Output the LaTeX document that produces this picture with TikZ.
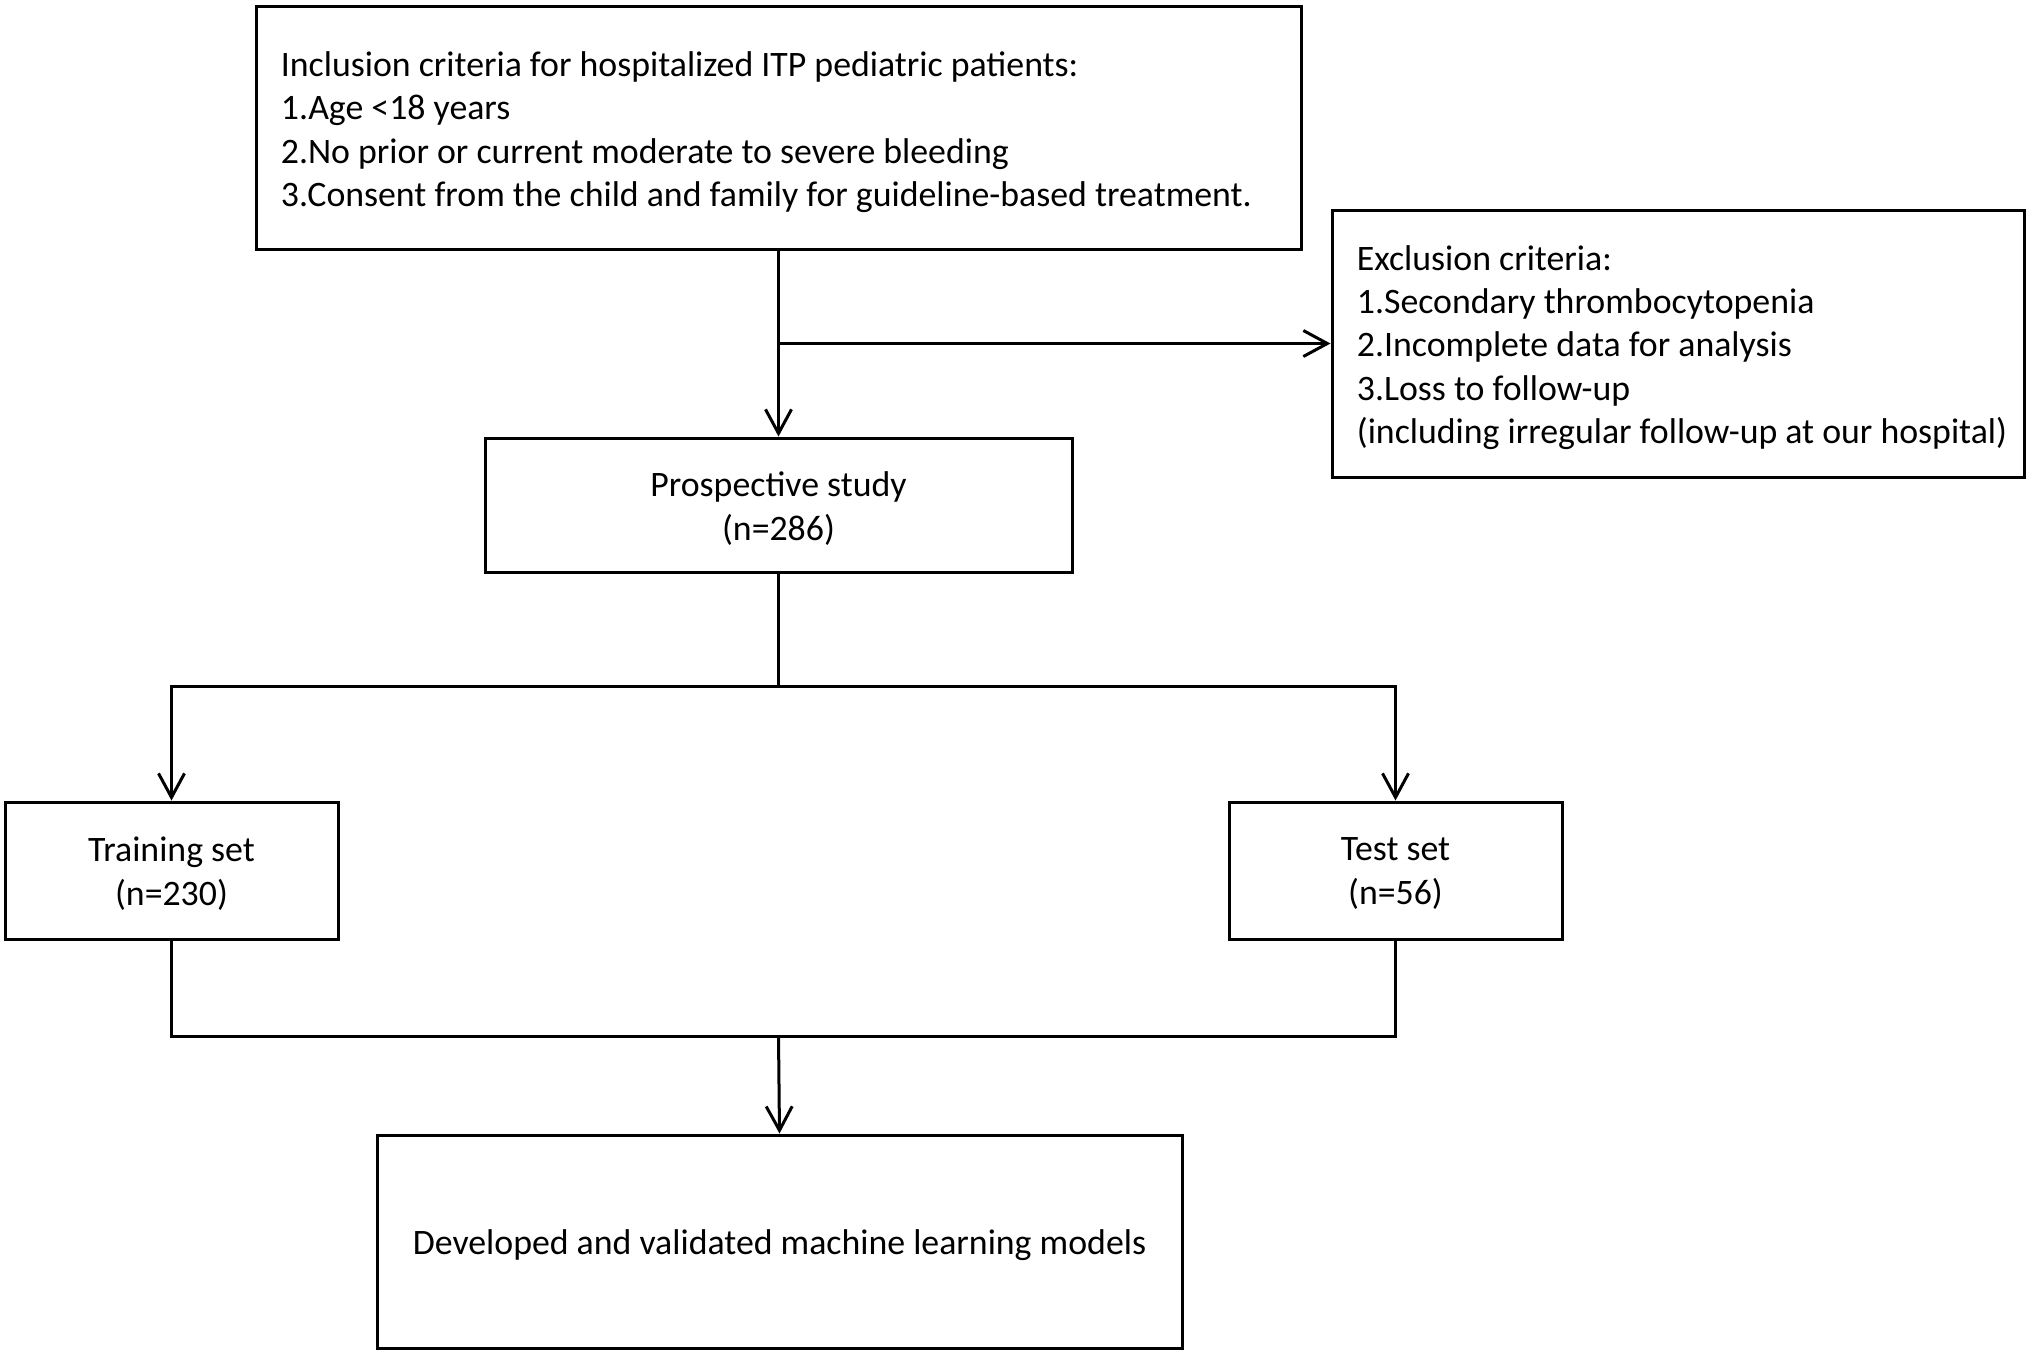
\documentclass[tikz,border=0pt]{standalone}
\usepackage{fontspec}
\setmainfont{Carlito}
\usetikzlibrary{arrows.meta}
\begin{document}
\begin{tikzpicture}[x=0.5pt,y=-0.5pt,
  box/.style={draw=black,line width=1.5pt,rectangle,inner sep=0pt},
  ctext/.style={inner sep=0pt,align=center,font=\fontsize{17.9pt}{22pt}\selectfont},
  ltext/.style={inner sep=0pt,align=left,anchor=west,font=\fontsize{17.9pt}{21.7pt}\selectfont},
  conn/.style={line width=1.5pt,draw=black},
  arr/.style={conn,-{Straight Barb[length=12pt,width=13pt,line width=1.5pt]}}]
\useasboundingbox (0,0) rectangle (2030,1351);
\node[box,minimum width=522.5pt,minimum height=121.5pt] (inc) at (778.5,128) {};
\node[ltext] (inct) at ([xshift=13pt,yshift=-2pt]inc.west)
  {Inclusion criteria for hospitalized ITP pediatric patients:\\
   1.Age {<}18 years\\
   2.No prior or current moderate to severe bleeding\\
   3.Consent from the child and family for guideline-based treatment.};
\node[box,minimum width=346pt,minimum height=133.5pt] (exc) at (1678,343.5) {};
\node[ltext] (exct) at ([xshift=13pt,yshift=-2pt]exc.west)
  {Exclusion criteria:\\
   1.Secondary thrombocytopenia\\
   2.Incomplete data for analysis\\
   3.Loss to follow-up\\
   (including irregular follow-up at our hospital)};
\node[box,minimum width=293.5pt,minimum height=67pt] (pro) at (778.5,505) {};
\node[ctext] (prot) at ([yshift=-2pt]pro.center) {Prospective study\\(n=286)};
\node[box,minimum width=166.5pt,minimum height=68.5pt] (tra) at (171.5,870.5) {};
\node[ctext] (trat) at ([yshift=-1.5pt]tra.center) {Training set\\(n=230)};
\node[box,minimum width=166.5pt,minimum height=68.5pt] (tes) at (1395.5,870.5) {};
\node[ctext] (test) at ([yshift=-1.5pt]tes.center) {Test set\\(n=56)};
\node[box,minimum width=402.5pt,minimum height=106.5pt] (dev) at (779.5,1241.5) {};
\node[ctext] (devt) at ([yshift=-2pt]dev.center) {Developed and validated machine learning models};
\coordinate (b1) at (778.5,343.5);
\coordinate (s1) at (778.5,686);
\coordinate (m1) at (778.5,1036);
\draw[arr] (inc.south) -- (pro.north);
\draw[arr] (b1) -- (exc.west |- b1);
\draw[conn] (pro.south) -- (s1);
\draw[arr] (s1) -| (tra.north);
\draw[arr] (s1) -| (tes.north);
\draw[conn] (tra.south) |- (m1);
\draw[conn] (tes.south) |- (m1);
\draw[arr] (m1) -- (dev.north);
\end{tikzpicture}
\end{document}
